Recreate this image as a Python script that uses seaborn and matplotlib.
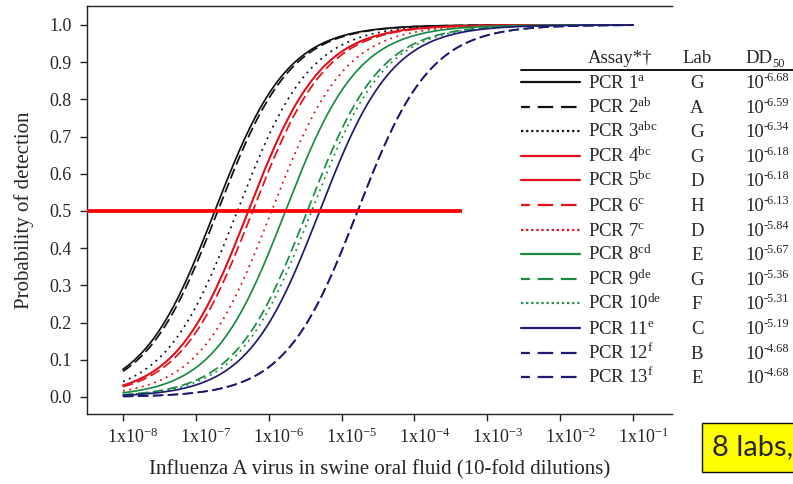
import matplotlib
matplotlib.use("Agg")
import matplotlib.pyplot as plt
import seaborn as sns
import numpy as np
from matplotlib.lines import Line2D
from matplotlib.patches import Rectangle
from matplotlib.transforms import ScaledTranslation

# assay table (as printed)
assays = ["PCR 1", "PCR 2", "PCR 3", "PCR 4", "PCR 5", "PCR 6", "PCR 7",
          "PCR 8", "PCR 9", "PCR 10", "PCR 11", "PCR 12", "PCR 13"]
sup = ["a", "ab", "abc", "bc", "bc", "c", "c", "cd", "de", "de", "e", "f", "f"]
labs = ["G", "A", "G", "G", "D", "H", "D", "E", "G", "F", "C", "B", "E"]
dd50 = ["-6.68", "-6.59", "-6.34", "-6.18", "-6.18", "-6.13", "-5.84",
        "-5.67", "-5.36", "-5.31", "-5.19", "-4.68", "-4.68"]

# fitted curves: log10 dilution at p=0.5, slope per log10
mid_log10 = [-6.74, -6.70, -6.43, -6.28, -6.28, -6.22, -5.96,
             -5.77, -5.47, -5.41, -5.30, -4.78, -4.78]
slope = [2.0, 2.0, 2.0, 2.0, 2.0, 2.0, 2.0, 2.0, 2.0, 2.0, 2.0, 2.0, 2.0]

xtick_exp = [-8, -7, -6, -5, -4, -3, -2, -1]
yticks = [0.0, 0.1, 0.2, 0.3, 0.4, 0.5, 0.6, 0.7, 0.8, 0.9, 1.0]
threshold = 0.5
threshold_end = 10 ** -3.35

BLACK, RED, GREEN, NAVY = "#111111", "#e3121a", "#1c8a45", "#1f1a72"
DASH, DOT = (0, (6, 2.6)), (0, (1.1, 2.6))
colors = [BLACK, BLACK, BLACK, RED, RED, RED, RED, GREEN, GREEN, GREEN, NAVY, NAVY, NAVY]
styles = ["-", DASH, DOT, "-", "-", DASH, DOT, "-", DASH, DOT, "-", DASH, DASH]
LDASH, LDOT = (3, (7, 3.5)), (0, (1, 1.3))
leg_styles = ["-", LDASH, LDOT, "-", "-", LDASH, LDOT, "-", LDASH, LDOT, "-", LDASH, LDASH]

sns.set_style("ticks")
plt.rcParams['font.family'] = ['Liberation Serif', 'DejaVu Serif']
plt.rcParams['mathtext.fontset'] = 'custom'
plt.rcParams['mathtext.rm'] = 'Liberation Serif'
plt.rcParams['mathtext.it'] = 'Liberation Serif:italic'

W, H = 793, 484
fig = plt.figure(figsize=(W / 100, H / 100), dpi=100)
fx = lambda x: x / W
fy = lambda y: 1 - y / H
ax = fig.add_axes([fx(87), fy(414), (672 - 87) / W, (414 - 6) / H])
ax.set_xscale("log")

xs = np.logspace(-8, -1, 400)
for i in range(len(assays)):
    p = 1 / (1 + np.exp(-slope[i] * (np.log10(xs) - mid_log10[i])))
    sns.lineplot(x=xs, y=p, ax=ax, color=colors[i], linestyle=styles[i],
                 lw=1.25, legend=False)

ax.hlines(threshold, 10 ** -8.494, threshold_end, color="#ff0000", lw=2.7, zorder=5)

ax.set_xlim(10 ** -8.494, 10 ** -0.465)
ax.set_ylim(-0.0457, 1.051)
ax.set_xticks([10.0 ** e for e in xtick_exp])
ax.set_xticklabels([r"1x10$^{\mathrm{%d}}$" % e for e in xtick_exp])
ax.minorticks_off()
ax.set_yticks(yticks)
ax.set_yticklabels([f"{v:.1f}" for v in yticks])
ax.tick_params(axis="both", labelsize=13, direction="out", color="#222222", width=1)
ax.tick_params(axis="x", length=5, pad=5)
ax.tick_params(axis="y", length=5, pad=6)
for lab in ax.get_xticklabels():
    lab.set_transform(lab.get_transform() + ScaledTranslation(0.10, 0, fig.dpi_scale_trans))

for s in ["left", "bottom", "top"]:
    ax.spines[s].set_color("#222222")
    ax.spines[s].set_linewidth(1.0)
ax.spines["right"].set_visible(False)

ax.set_xlabel("Influenza A virus in swine oral fluid (10-fold dilutions)", fontsize=15, labelpad=9)
ax.set_ylabel("Probability of detection", fontsize=15, labelpad=11)

# table legend
fs = 13.5
fig.text(fx(588), fy(63), "Assay*†", fontsize=fs, va="baseline", ha="left")
fig.text(fx(697), fy(63), "Lab", fontsize=fs, va="baseline", ha="center")
fig.text(fx(745), fy(63), "DD", fontsize=fs, va="baseline", ha="left")
fig.text(fx(772), fy(67), "50", fontsize=9, va="baseline", ha="left")
fig.add_artist(Line2D([fx(521), fx(795)], [fy(69.5), fy(69.5)], color="#111111", lw=1.4,
                      transform=fig.transFigure))
row0, step = 88, 24.6
for i in range(len(assays)):
    yb = row0 + i * step
    yl = yb - 6
    fig.add_artist(Line2D([fx(521), fx(580)], [fy(yl), fy(yl)], color=colors[i],
                          linestyle=leg_styles[i], lw=1.6, transform=fig.transFigure))
    fig.text(fx(588), fy(yb), assays[i] + r"$^{\mathrm{%s}}$" % sup[i], fontsize=fs,
             va="baseline", ha="left")
    fig.text(fx(697), fy(yb), labs[i], fontsize=fs, va="baseline", ha="center")
    fig.text(fx(745), fy(yb), "10", fontsize=fs, va="baseline", ha="left")
    fig.text(fx(764), fy(yb - 7), dd50[i], fontsize=8.8, va="baseline", ha="left")

# yellow call-out box (cut by the image edge)
fig.add_artist(Rectangle((fx(702), fy(472)), (800 - 702) / W, (472 - 423) / H,
                         facecolor="#ffff00", edgecolor="#111111", lw=1.0,
                         transform=fig.transFigure))
fig.text(fx(712), fy(447), "8 labs,", fontsize=21, family=["Lato", "DejaVu Sans"],
         va="center", ha="left")

fig.savefig("out.png", dpi=100)
